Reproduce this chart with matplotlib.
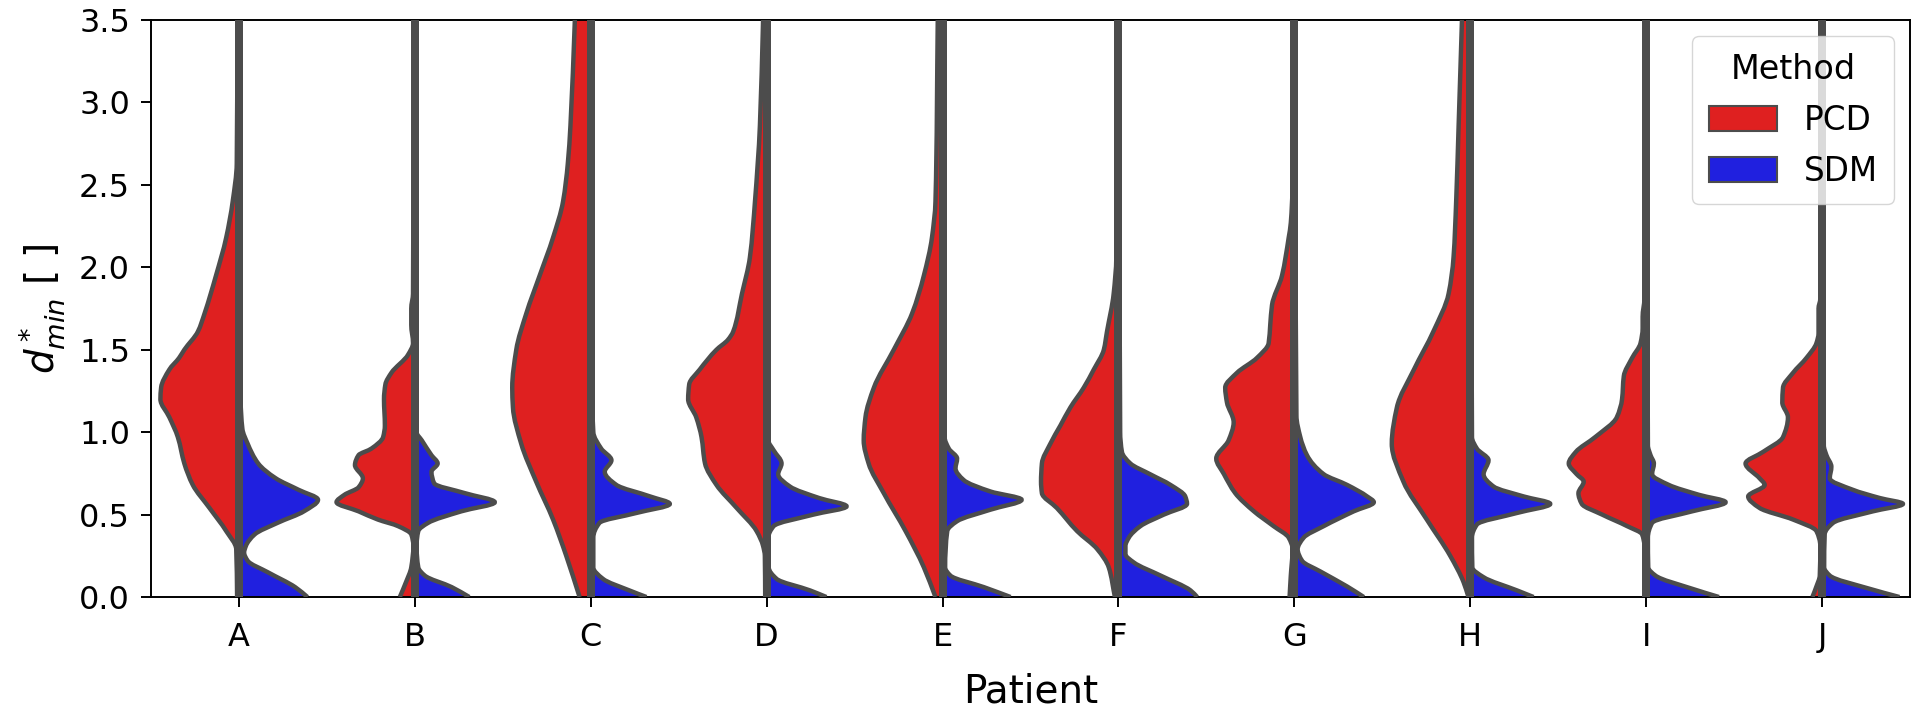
import numpy as np
import matplotlib.pyplot as plt
from matplotlib.path import Path
from matplotlib.patches import Patch, PathPatch

# Patients on the x axis and the two methods per split violin
patients = ["A", "B", "C", "D", "E", "F", "G", "H", "I", "J"]
methods = ["PCD", "SDM"]

# Half-violin outlines: (d*_min, half width in category units)
pcd_profile = {
    "A": [(0, 0.01), (0.29, 0.015), (0.40, 0.072), (0.54, 0.167), (0.68, 0.262), (0.81, 0.31),
          (0.97, 0.347), (1.09, 0.395), (1.2, 0.446), (1.27, 0.442), (1.38, 0.395), (1.45, 0.34),
          (1.5, 0.31), (1.61, 0.233), (1.72, 0.195), (1.95, 0.13), (2.18, 0.072), (2.4, 0.035),
          (2.63, 0.012), (3.5, 0.008)],
    "B": [(0, 0.085), (0.09, 0.05), (0.18, 0.02), (0.31, 0.008), (0.38, 0.02), (0.43, 0.095),
          (0.47, 0.21), (0.52, 0.32), (0.575, 0.445), (0.62, 0.40), (0.665, 0.32), (0.72, 0.295),
          (0.80, 0.34), (0.86, 0.32), (0.90, 0.247), (0.97, 0.18), (1.04, 0.17), (1.2, 0.175),
          (1.29, 0.167), (1.36, 0.133), (1.47, 0.038), (1.54, 0.01), (1.65, 0.02), (1.75, 0.02),
          (1.84, 0.01), (3.5, 0.006)],
    "C": [(0, 0.063), (0.25, 0.139), (0.47, 0.214), (0.70, 0.31), (0.93, 0.395), (1.15, 0.442),
          (1.27, 0.446), (1.5, 0.423), (1.72, 0.366), (1.95, 0.29), (2.18, 0.214), (2.4, 0.157),
          (2.63, 0.13), (2.86, 0.115), (3.5, 0.09)],
    "D": [(0, 0.008), (0.25, 0.01), (0.31, 0.02), (0.40, 0.057), (0.54, 0.17), (0.68, 0.285),
          (0.81, 0.35), (0.97, 0.37), (1.09, 0.4), (1.2, 0.446), (1.29, 0.44), (1.38, 0.38),
          (1.5, 0.285), (1.56, 0.22), (1.61, 0.19), (1.84, 0.14), (2.06, 0.095), (2.4, 0.066),
          (2.86, 0.038), (3.5, 0.02)],
    "E": [(0, 0.04), (0.18, 0.106), (0.40, 0.21), (0.63, 0.334), (0.81, 0.42), (0.95, 0.448),
          (1.09, 0.438), (1.27, 0.39), (1.5, 0.277), (1.72, 0.173), (1.95, 0.106), (2.18, 0.06),
          (2.4, 0.04), (3.5, 0.027)],
    "F": [(0, 0.02), (0.18, 0.055), (0.29, 0.12), (0.40, 0.235), (0.54, 0.35), (0.63, 0.435),
          (0.70, 0.44), (0.81, 0.435), (0.93, 0.387), (1.04, 0.33), (1.15, 0.273), (1.27, 0.197),
          (1.38, 0.14), (1.5, 0.083), (1.61, 0.065), (1.84, 0.027), (2.06, 0.012), (3.5, 0.006)],
    "G": [(0, 0.027), (0.13, 0.02), (0.29, 0.01), (0.36, 0.032), (0.43, 0.118), (0.52, 0.23),
          (0.63, 0.336), (0.745, 0.4), (0.84, 0.444), (0.95, 0.374), (1.06, 0.345), (1.18, 0.383),
          (1.27, 0.393), (1.36, 0.326), (1.45, 0.213), (1.54, 0.146), (1.65, 0.137), (1.77, 0.127),
          (1.95, 0.07), (2.18, 0.032), (2.27, 0.02), (2.5, 0.01), (3.5, 0.006)],
    "H": [(0, 0.01), (0.09, 0.038), (0.25, 0.114), (0.47, 0.247), (0.70, 0.38), (0.93, 0.446),
          (1.15, 0.417), (1.38, 0.32), (1.61, 0.21), (1.84, 0.123), (2.06, 0.095), (2.4, 0.08),
          (2.86, 0.066), (3.5, 0.047)],
    "I": [(0, 0.008), (0.31, 0.01), (0.38, 0.023), (0.43, 0.108), (0.5, 0.25), (0.565, 0.366),
          (0.63, 0.385), (0.70, 0.355), (0.745, 0.395), (0.81, 0.44), (0.88, 0.40), (0.97, 0.29),
          (1.09, 0.167), (1.2, 0.137), (1.34, 0.127), (1.45, 0.08), (1.54, 0.032), (1.63, 0.02),
          (1.7, 0.02), (1.81, 0.01), (3.5, 0.006)],
    "J": [(0, 0.055), (0.064, 0.032), (0.13, 0.013), (0.31, 0.01), (0.40, 0.032), (0.47, 0.165),
          (0.54, 0.355), (0.61, 0.42), (0.68, 0.326), (0.72, 0.355), (0.81, 0.435), (0.88, 0.336),
          (0.97, 0.222), (1.09, 0.194), (1.18, 0.226), (1.27, 0.222), (1.36, 0.165), (1.45, 0.089),
          (1.54, 0.032), (1.6, 0.02), (1.75, 0.02), (1.81, 0.01), (3.5, 0.006)],
}

sdm_profile = {
    "A": [(0, 0.39), (0.06, 0.32), (0.15, 0.165), (0.22, 0.05), (0.27, 0.03), (0.31, 0.04),
          (0.38, 0.09), (0.45, 0.22), (0.52, 0.37), (0.59, 0.45), (0.65, 0.34), (0.72, 0.21),
          (0.81, 0.11), (0.93, 0.05), (1.02, 0.02), (1.2, 0.01), (3.5, 0.006)],
    "B": [(0, 0.31), (0.06, 0.21), (0.13, 0.057), (0.18, 0.02), (0.31, 0.01), (0.40, 0.02),
          (0.45, 0.076), (0.52, 0.265), (0.575, 0.455), (0.63, 0.285), (0.69, 0.11), (0.76, 0.095),
          (0.81, 0.13), (0.86, 0.095), (0.95, 0.04), (1.0, 0.01), (3.5, 0.005)],
    "C": [(0, 0.317), (0.04, 0.22), (0.11, 0.07), (0.18, 0.015), (0.36, 0.015), (0.45, 0.05),
          (0.51, 0.26), (0.565, 0.45), (0.61, 0.338), (0.68, 0.146), (0.76, 0.08), (0.83, 0.118),
          (0.9, 0.06), (1.0, 0.015), (1.3, 0.008), (3.5, 0.005)],
    "D": [(0, 0.34), (0.04, 0.247), (0.11, 0.057), (0.18, 0.012), (0.36, 0.01), (0.43, 0.04),
          (0.5, 0.266), (0.55, 0.455), (0.6, 0.30), (0.67, 0.133), (0.745, 0.066), (0.81, 0.085),
          (0.89, 0.04), (0.95, 0.01), (3.5, 0.005)],
    "E": [(0, 0.387), (0.06, 0.235), (0.13, 0.045), (0.18, 0.015), (0.40, 0.027), (0.46, 0.083),
          (0.53, 0.273), (0.59, 0.45), (0.64, 0.273), (0.71, 0.12), (0.78, 0.074), (0.84, 0.083),
          (0.9, 0.036), (0.97, 0.012), (3.5, 0.005)],
    "F": [(0, 0.448), (0.04, 0.41), (0.13, 0.24), (0.21, 0.087), (0.26, 0.04), (0.31, 0.04),
          (0.36, 0.059), (0.43, 0.125), (0.5, 0.258), (0.565, 0.39), (0.61, 0.38), (0.68, 0.296),
          (0.745, 0.18), (0.81, 0.068), (0.88, 0.02), (1.0, 0.01), (3.5, 0.005)],
    "G": [(0, 0.395), (0.064, 0.3), (0.155, 0.148), (0.22, 0.044), (0.29, 0.019), (0.36, 0.053),
          (0.43, 0.167), (0.52, 0.338), (0.575, 0.452), (0.61, 0.414), (0.68, 0.3), (0.745, 0.167),
          (0.86, 0.072), (0.97, 0.034), (1.1, 0.012), (3.5, 0.005)],
    "H": [(0, 0.36), (0.04, 0.266), (0.12, 0.076), (0.18, 0.012), (0.36, 0.01), (0.44, 0.038),
          (0.51, 0.266), (0.565, 0.455), (0.61, 0.304), (0.67, 0.133), (0.745, 0.076), (0.83, 0.104),
          (0.9, 0.038), (0.97, 0.01), (3.5, 0.005)],
    "I": [(0, 0.414), (0.05, 0.262), (0.13, 0.053), (0.18, 0.012), (0.36, 0.01), (0.45, 0.034),
          (0.52, 0.262), (0.575, 0.452), (0.62, 0.3), (0.68, 0.129), (0.745, 0.034), (0.81, 0.044),
          (0.86, 0.025), (0.92, 0.01), (3.5, 0.005)],
    "J": [(0, 0.44), (0.05, 0.27), (0.13, 0.044), (0.18, 0.012), (0.38, 0.015), (0.45, 0.063),
          (0.52, 0.29), (0.565, 0.46), (0.6, 0.33), (0.65, 0.176), (0.72, 0.044), (0.79, 0.053),
          (0.86, 0.025), (0.92, 0.01), (3.5, 0.005)],
}

# seaborn-style desaturated red / blue and the dark gray outline
colors = {"PCD": "#df2020", "SDM": "#2020df"}
edge = "#4c4c4c"
edge_lw = 3.2


def smooth_outline(ys, xs):
    """Bezier path through the outline points (monotone Hermite slopes, no overshoot)."""
    ys = np.asarray(ys, float)
    xs = np.asarray(xs, float)
    h = np.diff(ys)
    d = np.diff(xs) / h
    m = np.empty_like(xs)
    m[0], m[-1] = d[0], d[-1]
    for k in range(1, len(xs) - 1):
        if d[k - 1] * d[k] <= 0:
            m[k] = 0.0
        else:
            w1 = 2 * h[k] + h[k - 1]
            w2 = h[k] + 2 * h[k - 1]
            m[k] = (w1 + w2) / (w1 / d[k - 1] + w2 / d[k])
    verts = [(xs[0], ys[0])]
    for k in range(len(h)):
        verts.append((xs[k] + m[k] * h[k] / 3, ys[k] + h[k] / 3))
        verts.append((xs[k + 1] - m[k + 1] * h[k] / 3, ys[k + 1] - h[k] / 3))
        verts.append((xs[k + 1], ys[k + 1]))
    codes = [Path.MOVETO] + [Path.CURVE4] * (3 * len(h))
    return verts, codes


fig = plt.figure(figsize=(19.2, 7.15), dpi=100)
ax = fig.add_axes([0.0786, 0.165, 0.9162, 0.807])

for i, p in enumerate(patients):
    for method, profile, side in (("PCD", pcd_profile, -1), ("SDM", sdm_profile, 1)):
        ys = [pt[0] for pt in profile[p]]
        xs = [i + side * pt[1] for pt in profile[p]]
        verts, codes = smooth_outline(ys, xs)
        # filled half: centre -> outline -> back to centre
        fill_verts = [(i, ys[0])] + verts + [(i, ys[-1]), (i, ys[0])]
        fill_codes = [Path.MOVETO, Path.LINETO] + codes[1:] + [Path.LINETO, Path.CLOSEPOLY]
        ax.add_patch(PathPatch(Path(fill_verts, fill_codes), facecolor=colors[method],
                               lw=0, zorder=2))
        ax.add_patch(PathPatch(Path(verts, codes), fill=False, edgecolor=edge, lw=edge_lw,
                               joinstyle="round", zorder=3))
    # shared centre line of the split violin
    ax.plot([i, i], [0, 3.5], color=edge, lw=1.8 * edge_lw, zorder=3, solid_capstyle="butt")

ax.set_xlim(-0.5, len(patients) - 0.5)
ax.set_ylim(0, 3.5)
ax.set_xticks(range(len(patients)))
ax.set_xticklabels(patients)
ax.set_yticks([0, 0.5, 1.0, 1.5, 2.0, 2.5, 3.0, 3.5])
ax.set_yticklabels([f"{v:.1f}" for v in ax.get_yticks()])
ax.tick_params(labelsize=23, length=7, width=1.4)
ax.tick_params(axis="x", pad=11)
ax.tick_params(axis="y", pad=8)
for s in ax.spines.values():
    s.set_linewidth(1.4)

ax.set_xlabel("Patient", fontsize=28, labelpad=14)
ax.set_ylabel(r"$d^*_{min}$ [ ]", fontsize=28, labelpad=8)

handles = [Patch(facecolor=colors[m], edgecolor=edge, lw=1.5, label=m) for m in methods]
leg = ax.legend(handles=handles, title="Method", loc="upper right", fontsize=23.5,
                title_fontsize=24, handlelength=2.1, handleheight=0.8, labelspacing=0.55,
                borderpad=0.5, borderaxespad=0.5, framealpha=0.8)

fig.savefig("out.png", dpi=100)
